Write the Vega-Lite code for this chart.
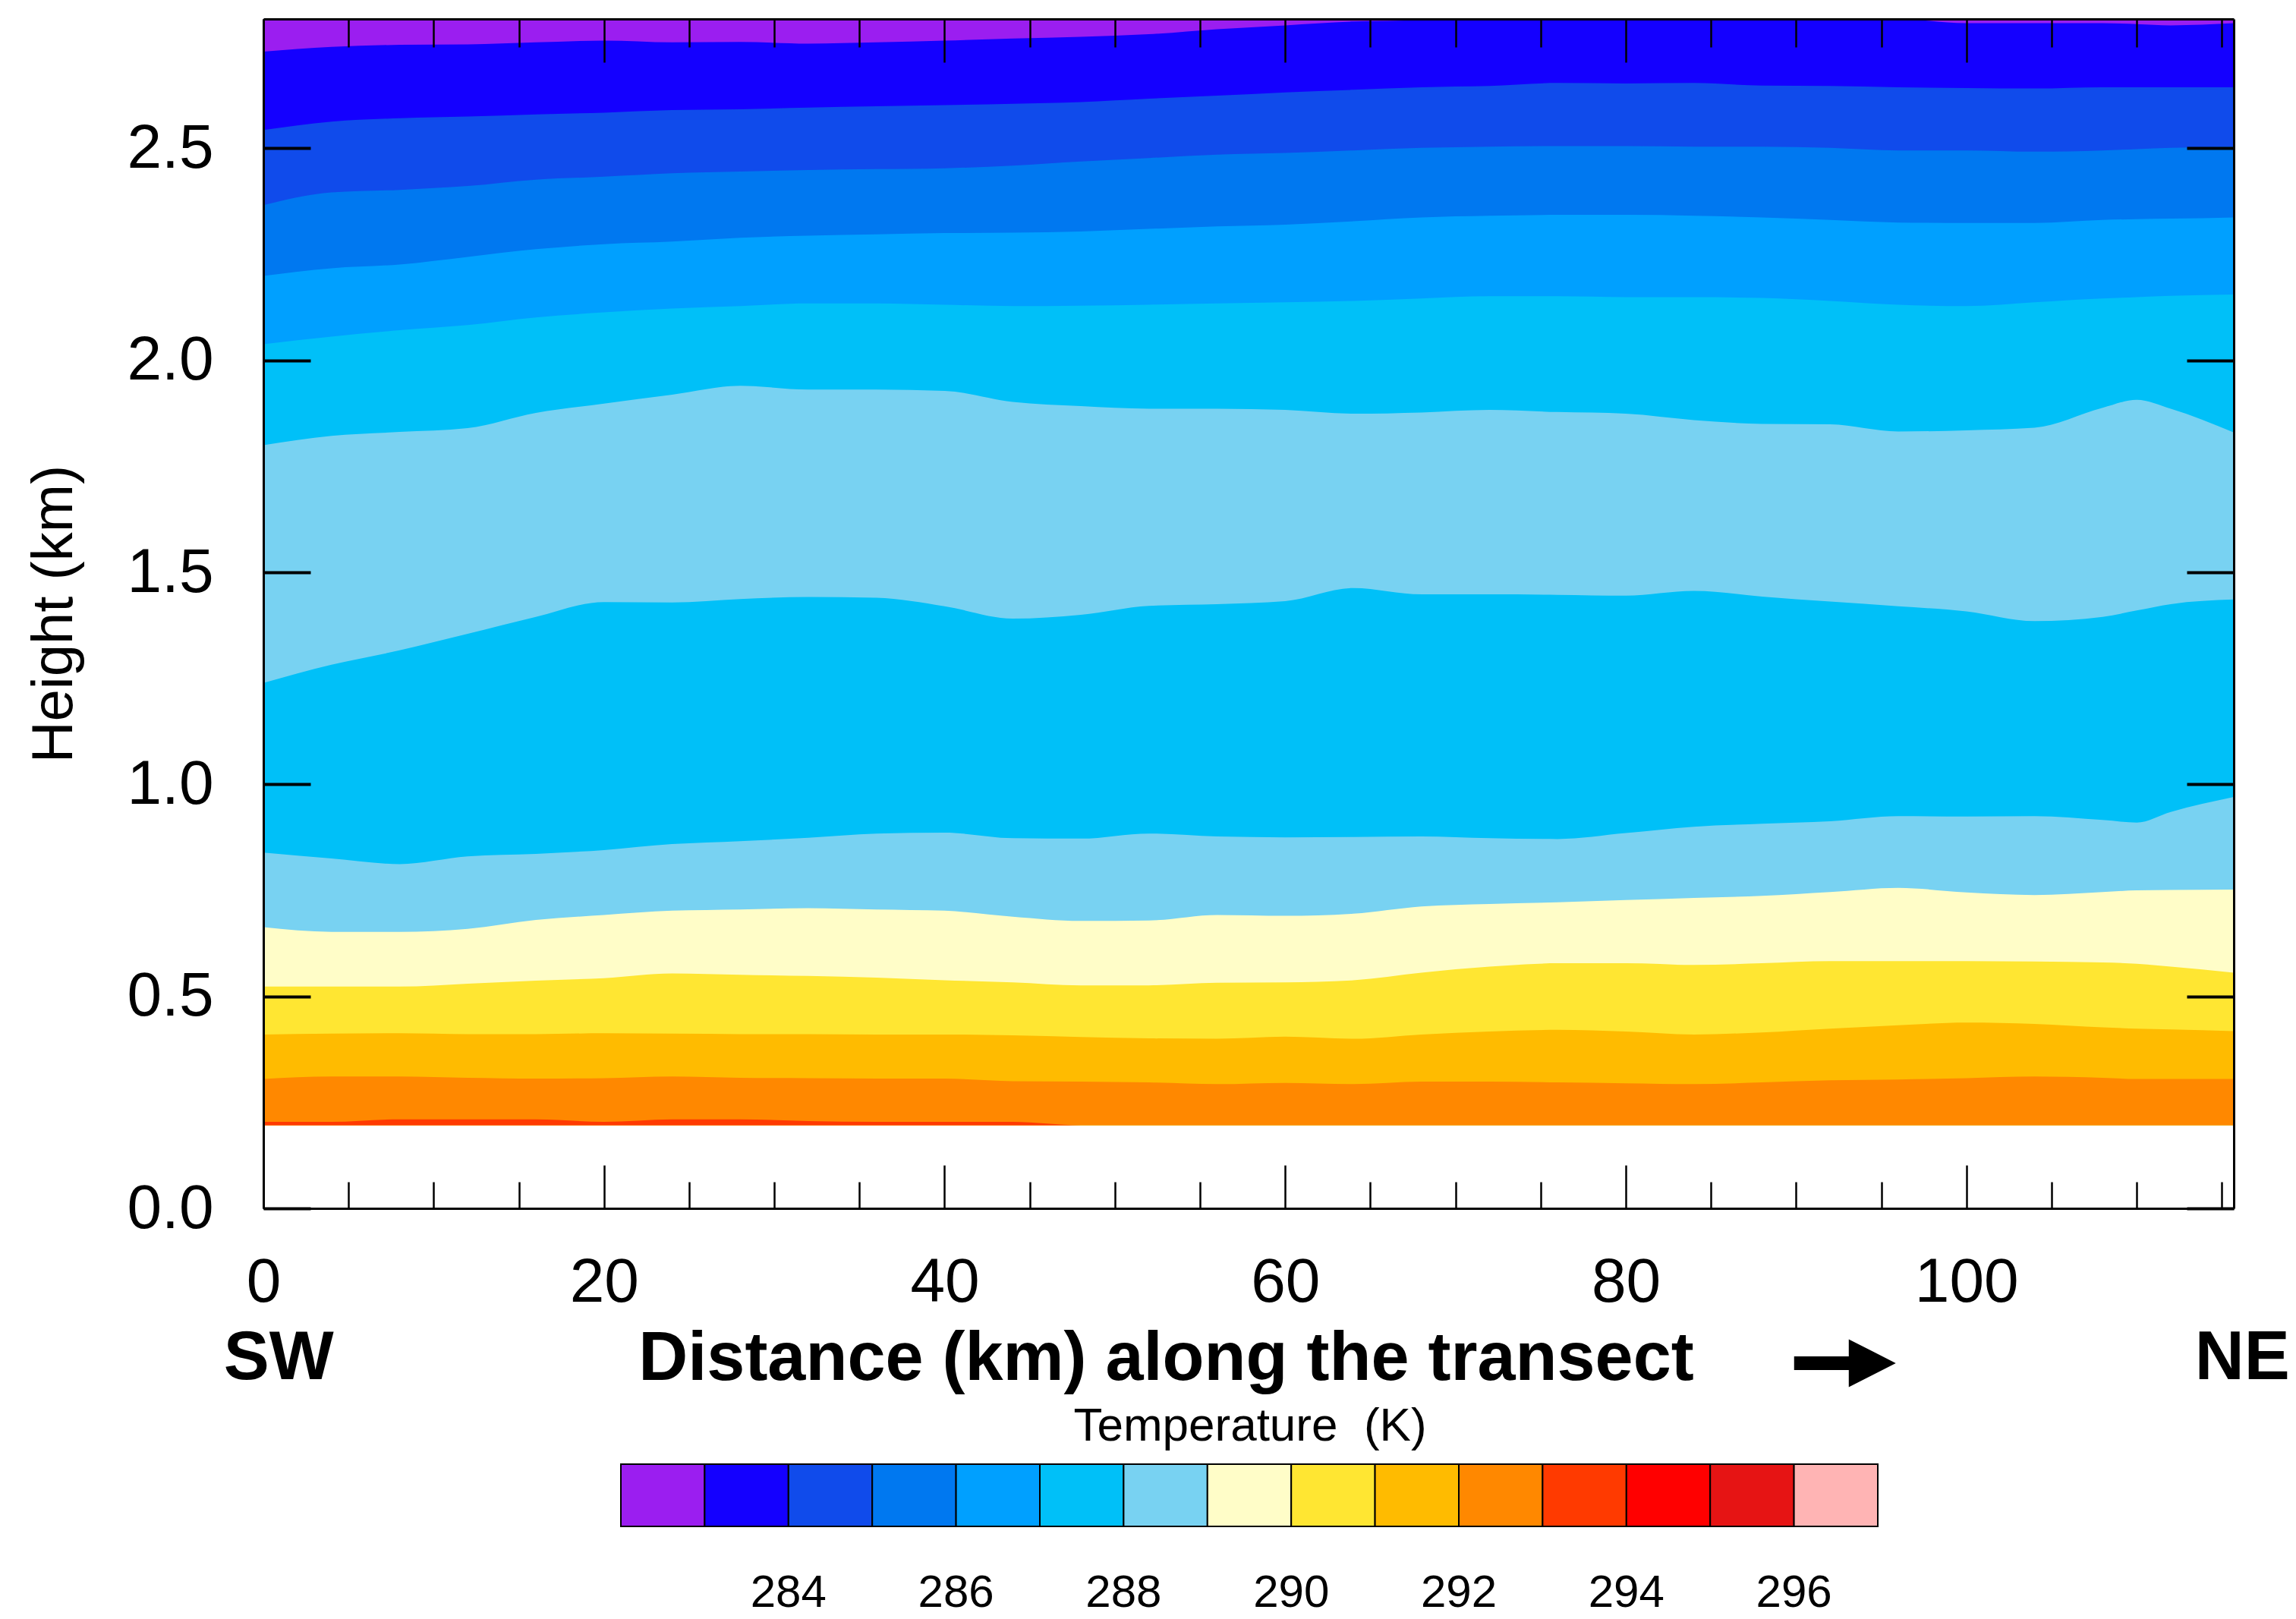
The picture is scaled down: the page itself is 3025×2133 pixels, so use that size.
{
"$schema": "https://vega.github.io/schema/vega-lite/v6.json",
"autosize": {"type": "none"},
"padding": {"left": 347, "top": 25, "right": 82, "bottom": 541},
"width": 2596,
"height": 1567,
"background": "white",
"config": {"view": {"stroke": null}, "font": "Liberation Sans"},
"resolve": {"axis": {"x": "independent", "y": "independent"}},
"layer": [
{
"data": {"values": [
{"b":1,"T":282.5,"x":0,"h":2.805},{"b":1,"T":282.5,"x":115.7,"h":2.805},
{"b":2,"T":283.5,"x":0,"h":2.728},{"b":2,"T":283.5,"x":4,"h":2.739},{"b":2,"T":283.5,"x":8,"h":2.744},{"b":2,"T":283.5,"x":12,"h":2.745},{"b":2,"T":283.5,"x":16,"h":2.75},{"b":2,"T":283.5,"x":20,"h":2.754},{"b":2,"T":283.5,"x":24,"h":2.75},{"b":2,"T":283.5,"x":28,"h":2.751},{"b":2,"T":283.5,"x":32,"h":2.747},{"b":2,"T":283.5,"x":36,"h":2.75},{"b":2,"T":283.5,"x":40,"h":2.754},{"b":2,"T":283.5,"x":44,"h":2.759},{"b":2,"T":283.5,"x":48,"h":2.763},{"b":2,"T":283.5,"x":52,"h":2.769},{"b":2,"T":283.5,"x":56,"h":2.781},{"b":2,"T":283.5,"x":60,"h":2.79},{"b":2,"T":283.5,"x":64,"h":2.799},{"b":2,"T":283.5,"x":68,"h":2.802},{"b":2,"T":283.5,"x":72,"h":2.805},{"b":2,"T":283.5,"x":76,"h":2.805},{"b":2,"T":283.5,"x":80,"h":2.805},{"b":2,"T":283.5,"x":84,"h":2.805},{"b":2,"T":283.5,"x":88,"h":2.805},{"b":2,"T":283.5,"x":92,"h":2.805},{"b":2,"T":283.5,"x":96,"h":2.805},{"b":2,"T":283.5,"x":100,"h":2.795},{"b":2,"T":283.5,"x":104,"h":2.795},{"b":2,"T":283.5,"x":108,"h":2.795},{"b":2,"T":283.5,"x":110,"h":2.793},{"b":2,"T":283.5,"x":112,"h":2.79},{"b":2,"T":283.5,"x":115.7,"h":2.795},
{"b":3,"T":284.5,"x":0,"h":2.543},{"b":3,"T":284.5,"x":4,"h":2.563},{"b":3,"T":284.5,"x":8,"h":2.571},{"b":3,"T":284.5,"x":12,"h":2.575},{"b":3,"T":284.5,"x":16,"h":2.58},{"b":3,"T":284.5,"x":20,"h":2.584},{"b":3,"T":284.5,"x":24,"h":2.59},{"b":3,"T":284.5,"x":28,"h":2.592},{"b":3,"T":284.5,"x":32,"h":2.596},{"b":3,"T":284.5,"x":36,"h":2.599},{"b":3,"T":284.5,"x":40,"h":2.602},{"b":3,"T":284.5,"x":44,"h":2.605},{"b":3,"T":284.5,"x":48,"h":2.609},{"b":3,"T":284.5,"x":52,"h":2.617},{"b":3,"T":284.5,"x":56,"h":2.624},{"b":3,"T":284.5,"x":60,"h":2.632},{"b":3,"T":284.5,"x":64,"h":2.638},{"b":3,"T":284.5,"x":68,"h":2.644},{"b":3,"T":284.5,"x":72,"h":2.647},{"b":3,"T":284.5,"x":76,"h":2.654},{"b":3,"T":284.5,"x":80,"h":2.653},{"b":3,"T":284.5,"x":84,"h":2.654},{"b":3,"T":284.5,"x":88,"h":2.648},{"b":3,"T":284.5,"x":92,"h":2.647},{"b":3,"T":284.5,"x":96,"h":2.644},{"b":3,"T":284.5,"x":100,"h":2.642},{"b":3,"T":284.5,"x":104,"h":2.641},{"b":3,"T":284.5,"x":108,"h":2.644},{"b":3,"T":284.5,"x":110,"h":2.644},{"b":3,"T":284.5,"x":112,"h":2.644},{"b":3,"T":284.5,"x":115.7,"h":2.644},
{"b":4,"T":285.5,"x":0,"h":2.366},{"b":4,"T":285.5,"x":4,"h":2.396},{"b":4,"T":285.5,"x":8,"h":2.402},{"b":4,"T":285.5,"x":12,"h":2.411},{"b":4,"T":285.5,"x":16,"h":2.426},{"b":4,"T":285.5,"x":20,"h":2.433},{"b":4,"T":285.5,"x":24,"h":2.441},{"b":4,"T":285.5,"x":28,"h":2.445},{"b":4,"T":285.5,"x":32,"h":2.449},{"b":4,"T":285.5,"x":36,"h":2.451},{"b":4,"T":285.5,"x":40,"h":2.453},{"b":4,"T":285.5,"x":44,"h":2.459},{"b":4,"T":285.5,"x":48,"h":2.469},{"b":4,"T":285.5,"x":52,"h":2.477},{"b":4,"T":285.5,"x":56,"h":2.485},{"b":4,"T":285.5,"x":60,"h":2.489},{"b":4,"T":285.5,"x":64,"h":2.495},{"b":4,"T":285.5,"x":68,"h":2.501},{"b":4,"T":285.5,"x":72,"h":2.504},{"b":4,"T":285.5,"x":76,"h":2.505},{"b":4,"T":285.5,"x":80,"h":2.505},{"b":4,"T":285.5,"x":84,"h":2.504},{"b":4,"T":285.5,"x":88,"h":2.504},{"b":4,"T":285.5,"x":92,"h":2.501},{"b":4,"T":285.5,"x":96,"h":2.495},{"b":4,"T":285.5,"x":100,"h":2.495},{"b":4,"T":285.5,"x":104,"h":2.492},{"b":4,"T":285.5,"x":108,"h":2.495},{"b":4,"T":285.5,"x":110,"h":2.498},{"b":4,"T":285.5,"x":112,"h":2.501},{"b":4,"T":285.5,"x":115.7,"h":2.504},
{"b":5,"T":286.5,"x":0,"h":2.199},{"b":5,"T":286.5,"x":4,"h":2.217},{"b":5,"T":286.5,"x":8,"h":2.226},{"b":5,"T":286.5,"x":12,"h":2.244},{"b":5,"T":286.5,"x":16,"h":2.262},{"b":5,"T":286.5,"x":20,"h":2.274},{"b":5,"T":286.5,"x":24,"h":2.28},{"b":5,"T":286.5,"x":28,"h":2.289},{"b":5,"T":286.5,"x":32,"h":2.294},{"b":5,"T":286.5,"x":36,"h":2.297},{"b":5,"T":286.5,"x":40,"h":2.3},{"b":5,"T":286.5,"x":44,"h":2.301},{"b":5,"T":286.5,"x":48,"h":2.304},{"b":5,"T":286.5,"x":52,"h":2.31},{"b":5,"T":286.5,"x":56,"h":2.316},{"b":5,"T":286.5,"x":60,"h":2.32},{"b":5,"T":286.5,"x":64,"h":2.328},{"b":5,"T":286.5,"x":68,"h":2.337},{"b":5,"T":286.5,"x":72,"h":2.341},{"b":5,"T":286.5,"x":76,"h":2.343},{"b":5,"T":286.5,"x":80,"h":2.343},{"b":5,"T":286.5,"x":84,"h":2.341},{"b":5,"T":286.5,"x":88,"h":2.337},{"b":5,"T":286.5,"x":92,"h":2.331},{"b":5,"T":286.5,"x":96,"h":2.325},{"b":5,"T":286.5,"x":100,"h":2.324},{"b":5,"T":286.5,"x":104,"h":2.324},{"b":5,"T":286.5,"x":108,"h":2.331},{"b":5,"T":286.5,"x":110,"h":2.333},{"b":5,"T":286.5,"x":112,"h":2.334},{"b":5,"T":286.5,"x":115.7,"h":2.337},
{"b":6,"T":287.5,"x":0,"h":2.038},{"b":6,"T":287.5,"x":4,"h":2.056},{"b":6,"T":287.5,"x":8,"h":2.071},{"b":6,"T":287.5,"x":12,"h":2.083},{"b":6,"T":287.5,"x":16,"h":2.101},{"b":6,"T":287.5,"x":20,"h":2.113},{"b":6,"T":287.5,"x":24,"h":2.122},{"b":6,"T":287.5,"x":28,"h":2.128},{"b":6,"T":287.5,"x":32,"h":2.134},{"b":6,"T":287.5,"x":36,"h":2.134},{"b":6,"T":287.5,"x":40,"h":2.131},{"b":6,"T":287.5,"x":44,"h":2.128},{"b":6,"T":287.5,"x":48,"h":2.129},{"b":6,"T":287.5,"x":52,"h":2.131},{"b":6,"T":287.5,"x":56,"h":2.134},{"b":6,"T":287.5,"x":60,"h":2.137},{"b":6,"T":287.5,"x":64,"h":2.14},{"b":6,"T":287.5,"x":68,"h":2.146},{"b":6,"T":287.5,"x":72,"h":2.151},{"b":6,"T":287.5,"x":76,"h":2.151},{"b":6,"T":287.5,"x":80,"h":2.149},{"b":6,"T":287.5,"x":84,"h":2.149},{"b":6,"T":287.5,"x":88,"h":2.147},{"b":6,"T":287.5,"x":92,"h":2.14},{"b":6,"T":287.5,"x":96,"h":2.131},{"b":6,"T":287.5,"x":100,"h":2.128},{"b":6,"T":287.5,"x":104,"h":2.137},{"b":6,"T":287.5,"x":108,"h":2.146},{"b":6,"T":287.5,"x":110,"h":2.149},{"b":6,"T":287.5,"x":112,"h":2.152},{"b":6,"T":287.5,"x":115.7,"h":2.155},
{"b":7,"T":288.5,"x":0,"h":1.8},{"b":7,"T":288.5,"x":4,"h":1.822},{"b":7,"T":288.5,"x":8,"h":1.831},{"b":7,"T":288.5,"x":12,"h":1.84},{"b":7,"T":288.5,"x":16,"h":1.876},{"b":7,"T":288.5,"x":20,"h":1.898},{"b":7,"T":288.5,"x":24,"h":1.919},{"b":7,"T":288.5,"x":28,"h":1.94},{"b":7,"T":288.5,"x":32,"h":1.931},{"b":7,"T":288.5,"x":36,"h":1.931},{"b":7,"T":288.5,"x":40,"h":1.928},{"b":7,"T":288.5,"x":44,"h":1.902},{"b":7,"T":288.5,"x":48,"h":1.892},{"b":7,"T":288.5,"x":52,"h":1.886},{"b":7,"T":288.5,"x":56,"h":1.886},{"b":7,"T":288.5,"x":60,"h":1.883},{"b":7,"T":288.5,"x":64,"h":1.874},{"b":7,"T":288.5,"x":68,"h":1.877},{"b":7,"T":288.5,"x":72,"h":1.883},{"b":7,"T":288.5,"x":76,"h":1.878},{"b":7,"T":288.5,"x":80,"h":1.874},{"b":7,"T":288.5,"x":84,"h":1.859},{"b":7,"T":288.5,"x":88,"h":1.85},{"b":7,"T":288.5,"x":92,"h":1.849},{"b":7,"T":288.5,"x":96,"h":1.832},{"b":7,"T":288.5,"x":100,"h":1.835},{"b":7,"T":288.5,"x":104,"h":1.841},{"b":7,"T":288.5,"x":108,"h":1.888},{"b":7,"T":288.5,"x":110,"h":1.907},{"b":7,"T":288.5,"x":112,"h":1.886},{"b":7,"T":288.5,"x":115.7,"h":1.83},
{"b":8,"T":287.5,"x":0,"h":1.239},{"b":8,"T":287.5,"x":4,"h":1.282},{"b":8,"T":287.5,"x":8,"h":1.316},{"b":8,"T":287.5,"x":12,"h":1.355},{"b":8,"T":287.5,"x":16,"h":1.395},{"b":8,"T":287.5,"x":20,"h":1.43},{"b":8,"T":287.5,"x":24,"h":1.429},{"b":8,"T":287.5,"x":28,"h":1.437},{"b":8,"T":287.5,"x":32,"h":1.442},{"b":8,"T":287.5,"x":36,"h":1.44},{"b":8,"T":287.5,"x":40,"h":1.42},{"b":8,"T":287.5,"x":44,"h":1.391},{"b":8,"T":287.5,"x":48,"h":1.4},{"b":8,"T":287.5,"x":52,"h":1.421},{"b":8,"T":287.5,"x":56,"h":1.425},{"b":8,"T":287.5,"x":60,"h":1.432},{"b":8,"T":287.5,"x":64,"h":1.463},{"b":8,"T":287.5,"x":68,"h":1.448},{"b":8,"T":287.5,"x":72,"h":1.448},{"b":8,"T":287.5,"x":76,"h":1.447},{"b":8,"T":287.5,"x":80,"h":1.445},{"b":8,"T":287.5,"x":84,"h":1.456},{"b":8,"T":287.5,"x":88,"h":1.443},{"b":8,"T":287.5,"x":92,"h":1.431},{"b":8,"T":287.5,"x":96,"h":1.42},{"b":8,"T":287.5,"x":100,"h":1.408},{"b":8,"T":287.5,"x":104,"h":1.385},{"b":8,"T":287.5,"x":108,"h":1.395},{"b":8,"T":287.5,"x":110,"h":1.41},{"b":8,"T":287.5,"x":112,"h":1.425},{"b":8,"T":287.5,"x":115.7,"h":1.436},
{"b":9,"T":288.5,"x":0,"h":0.839},{"b":9,"T":288.5,"x":4,"h":0.825},{"b":9,"T":288.5,"x":8,"h":0.812},{"b":9,"T":288.5,"x":12,"h":0.83},{"b":9,"T":288.5,"x":16,"h":0.836},{"b":9,"T":288.5,"x":20,"h":0.845},{"b":9,"T":288.5,"x":24,"h":0.859},{"b":9,"T":288.5,"x":28,"h":0.866},{"b":9,"T":288.5,"x":32,"h":0.874},{"b":9,"T":288.5,"x":36,"h":0.884},{"b":9,"T":288.5,"x":40,"h":0.886},{"b":9,"T":288.5,"x":44,"h":0.873},{"b":9,"T":288.5,"x":48,"h":0.872},{"b":9,"T":288.5,"x":52,"h":0.884},{"b":9,"T":288.5,"x":56,"h":0.877},{"b":9,"T":288.5,"x":60,"h":0.875},{"b":9,"T":288.5,"x":64,"h":0.876},{"b":9,"T":288.5,"x":68,"h":0.877},{"b":9,"T":288.5,"x":72,"h":0.873},{"b":9,"T":288.5,"x":76,"h":0.871},{"b":9,"T":288.5,"x":80,"h":0.885},{"b":9,"T":288.5,"x":84,"h":0.9},{"b":9,"T":288.5,"x":88,"h":0.907},{"b":9,"T":288.5,"x":92,"h":0.913},{"b":9,"T":288.5,"x":96,"h":0.925},{"b":9,"T":288.5,"x":100,"h":0.924},{"b":9,"T":288.5,"x":104,"h":0.925},{"b":9,"T":288.5,"x":108,"h":0.916},{"b":9,"T":288.5,"x":110,"h":0.91},{"b":9,"T":288.5,"x":112,"h":0.935},{"b":9,"T":288.5,"x":115.7,"h":0.97},
{"b":10,"T":289.5,"x":0,"h":0.663},{"b":10,"T":289.5,"x":4,"h":0.652},{"b":10,"T":289.5,"x":8,"h":0.652},{"b":10,"T":289.5,"x":12,"h":0.659},{"b":10,"T":289.5,"x":16,"h":0.68},{"b":10,"T":289.5,"x":20,"h":0.692},{"b":10,"T":289.5,"x":24,"h":0.702},{"b":10,"T":289.5,"x":28,"h":0.705},{"b":10,"T":289.5,"x":32,"h":0.708},{"b":10,"T":289.5,"x":36,"h":0.705},{"b":10,"T":289.5,"x":40,"h":0.702},{"b":10,"T":289.5,"x":44,"h":0.688},{"b":10,"T":289.5,"x":48,"h":0.678},{"b":10,"T":289.5,"x":52,"h":0.679},{"b":10,"T":289.5,"x":56,"h":0.692},{"b":10,"T":289.5,"x":60,"h":0.69},{"b":10,"T":289.5,"x":64,"h":0.695},{"b":10,"T":289.5,"x":68,"h":0.712},{"b":10,"T":289.5,"x":72,"h":0.718},{"b":10,"T":289.5,"x":76,"h":0.722},{"b":10,"T":289.5,"x":80,"h":0.727},{"b":10,"T":289.5,"x":84,"h":0.732},{"b":10,"T":289.5,"x":88,"h":0.737},{"b":10,"T":289.5,"x":92,"h":0.746},{"b":10,"T":289.5,"x":96,"h":0.756},{"b":10,"T":289.5,"x":100,"h":0.745},{"b":10,"T":289.5,"x":104,"h":0.739},{"b":10,"T":289.5,"x":108,"h":0.746},{"b":10,"T":289.5,"x":110,"h":0.75},{"b":10,"T":289.5,"x":112,"h":0.751},{"b":10,"T":289.5,"x":115.7,"h":0.752},
{"b":11,"T":290.5,"x":0,"h":0.523},{"b":11,"T":290.5,"x":4,"h":0.523},{"b":11,"T":290.5,"x":8,"h":0.523},{"b":11,"T":290.5,"x":12,"h":0.53},{"b":11,"T":290.5,"x":16,"h":0.537},{"b":11,"T":290.5,"x":20,"h":0.543},{"b":11,"T":290.5,"x":24,"h":0.554},{"b":11,"T":290.5,"x":28,"h":0.551},{"b":11,"T":290.5,"x":32,"h":0.548},{"b":11,"T":290.5,"x":36,"h":0.544},{"b":11,"T":290.5,"x":40,"h":0.538},{"b":11,"T":290.5,"x":44,"h":0.533},{"b":11,"T":290.5,"x":48,"h":0.526},{"b":11,"T":290.5,"x":52,"h":0.526},{"b":11,"T":290.5,"x":56,"h":0.532},{"b":11,"T":290.5,"x":60,"h":0.533},{"b":11,"T":290.5,"x":64,"h":0.538},{"b":11,"T":290.5,"x":68,"h":0.556},{"b":11,"T":290.5,"x":72,"h":0.57},{"b":11,"T":290.5,"x":76,"h":0.578},{"b":11,"T":290.5,"x":80,"h":0.578},{"b":11,"T":290.5,"x":84,"h":0.574},{"b":11,"T":290.5,"x":88,"h":0.578},{"b":11,"T":290.5,"x":92,"h":0.583},{"b":11,"T":290.5,"x":96,"h":0.583},{"b":11,"T":290.5,"x":100,"h":0.583},{"b":11,"T":290.5,"x":104,"h":0.582},{"b":11,"T":290.5,"x":108,"h":0.58},{"b":11,"T":290.5,"x":110,"h":0.577},{"b":11,"T":290.5,"x":112,"h":0.57},{"b":11,"T":290.5,"x":115.7,"h":0.556},
{"b":12,"T":291.5,"x":0,"h":0.41},{"b":12,"T":291.5,"x":4,"h":0.412},{"b":12,"T":291.5,"x":8,"h":0.413},{"b":12,"T":291.5,"x":12,"h":0.411},{"b":12,"T":291.5,"x":16,"h":0.411},{"b":12,"T":291.5,"x":20,"h":0.413},{"b":12,"T":291.5,"x":24,"h":0.412},{"b":12,"T":291.5,"x":28,"h":0.411},{"b":12,"T":291.5,"x":32,"h":0.411},{"b":12,"T":291.5,"x":36,"h":0.41},{"b":12,"T":291.5,"x":40,"h":0.41},{"b":12,"T":291.5,"x":44,"h":0.408},{"b":12,"T":291.5,"x":48,"h":0.404},{"b":12,"T":291.5,"x":52,"h":0.401},{"b":12,"T":291.5,"x":56,"h":0.4},{"b":12,"T":291.5,"x":60,"h":0.405},{"b":12,"T":291.5,"x":64,"h":0.4},{"b":12,"T":291.5,"x":68,"h":0.41},{"b":12,"T":291.5,"x":72,"h":0.417},{"b":12,"T":291.5,"x":76,"h":0.421},{"b":12,"T":291.5,"x":80,"h":0.417},{"b":12,"T":291.5,"x":84,"h":0.41},{"b":12,"T":291.5,"x":88,"h":0.415},{"b":12,"T":291.5,"x":92,"h":0.424},{"b":12,"T":291.5,"x":96,"h":0.432},{"b":12,"T":291.5,"x":100,"h":0.438},{"b":12,"T":291.5,"x":104,"h":0.435},{"b":12,"T":291.5,"x":108,"h":0.427},{"b":12,"T":291.5,"x":110,"h":0.424},{"b":12,"T":291.5,"x":112,"h":0.422},{"b":12,"T":291.5,"x":115.7,"h":0.418},
{"b":13,"T":292.5,"x":0,"h":0.305},{"b":13,"T":292.5,"x":4,"h":0.311},{"b":13,"T":292.5,"x":8,"h":0.311},{"b":13,"T":292.5,"x":12,"h":0.308},{"b":13,"T":292.5,"x":16,"h":0.306},{"b":13,"T":292.5,"x":20,"h":0.307},{"b":13,"T":292.5,"x":24,"h":0.311},{"b":13,"T":292.5,"x":28,"h":0.308},{"b":13,"T":292.5,"x":32,"h":0.307},{"b":13,"T":292.5,"x":36,"h":0.306},{"b":13,"T":292.5,"x":40,"h":0.306},{"b":13,"T":292.5,"x":44,"h":0.3},{"b":13,"T":292.5,"x":48,"h":0.299},{"b":13,"T":292.5,"x":52,"h":0.297},{"b":13,"T":292.5,"x":56,"h":0.293},{"b":13,"T":292.5,"x":60,"h":0.296},{"b":13,"T":292.5,"x":64,"h":0.293},{"b":13,"T":292.5,"x":68,"h":0.299},{"b":13,"T":292.5,"x":72,"h":0.299},{"b":13,"T":292.5,"x":76,"h":0.297},{"b":13,"T":292.5,"x":80,"h":0.295},{"b":13,"T":292.5,"x":84,"h":0.293},{"b":13,"T":292.5,"x":88,"h":0.297},{"b":13,"T":292.5,"x":92,"h":0.302},{"b":13,"T":292.5,"x":96,"h":0.304},{"b":13,"T":292.5,"x":100,"h":0.307},{"b":13,"T":292.5,"x":104,"h":0.311},{"b":13,"T":292.5,"x":108,"h":0.308},{"b":13,"T":292.5,"x":110,"h":0.305},{"b":13,"T":292.5,"x":112,"h":0.305},{"b":13,"T":292.5,"x":115.7,"h":0.305},
{"b":14,"T":293.5,"x":0,"h":0.204},{"b":14,"T":293.5,"x":4,"h":0.204},{"b":14,"T":293.5,"x":8,"h":0.21},{"b":14,"T":293.5,"x":12,"h":0.21},{"b":14,"T":293.5,"x":16,"h":0.21},{"b":14,"T":293.5,"x":20,"h":0.204},{"b":14,"T":293.5,"x":24,"h":0.21},{"b":14,"T":293.5,"x":28,"h":0.21},{"b":14,"T":293.5,"x":32,"h":0.206},{"b":14,"T":293.5,"x":36,"h":0.204},{"b":14,"T":293.5,"x":40,"h":0.204},{"b":14,"T":293.5,"x":44,"h":0.204},{"b":14,"T":293.5,"x":48,"h":0.196},{"b":14,"T":293.5,"x":115.7,"h":0.196}
]},
"mark": {"type": "area", "interpolate": "monotone"},
"encoding": {
"x": {"field": "x", "type": "quantitative", "scale": {"domain": [0, 115.7], "nice": false, "zero": false},
"axis": {"orient": "bottom", "values": [0, 20, 40, 60, 80, 100], "tickSize": -57, "tickWidth": 2.5, "tickColor": "black", "labelFont": "Liberation Sans", "labelFontSize": 82, "labelColor": "black", "labelPadding": 114, "labelFlush": false, "labelOverlap": false, "domainColor": "black", "domainWidth": 3, "grid": false, "zindex": 1, "title": "Distance (km) along the transect", "titleFont": "Liberation Sans", "titleFontSize": 90, "titleFontWeight": "bold", "titleColor": "black", "titleLimit": 3000, "titleX": 1189, "titleY": 225, "titleBaseline": "alphabetic"}},
"y": {"field": "h", "type": "quantitative", "scale": {"domain": [0, 2.805], "nice": false, "zero": false},
"axis": {"orient": "left", "values": [0, 0.5, 1, 1.5, 2, 2.5], "format": ".1f", "tickSize": -62, "tickWidth": 4, "tickColor": "black", "labelFont": "Liberation Sans", "labelFontSize": 82, "labelColor": "black", "labelPadding": 128, "labelFlush": false, "labelOverlap": false, "domainColor": "black", "domainWidth": 3, "grid": false, "zindex": 1, "title": "Height (km)", "titleFont": "Liberation Sans", "titleFontSize": 76, "titleFontWeight": "normal", "titleColor": "black", "titleLimit": 3000, "titleX": -253, "titleBaseline": "alphabetic"}},
"y2": {"datum": 0.196},
"detail": {"field": "b"},
"color": {"field": "T", "type": "quantitative",
"scale": {"type": "threshold", "domain": [283, 284, 285, 286, 287, 288, 289, 290, 291, 292, 293, 294, 295, 296],
"range": ["#9B1EF0", "#1400FF", "#104BEB", "#0078F0", "#00A0FF", "#00C0F8", "#78D2F2", "#FFFDC8", "#FFE632", "#FFBB00", "#FF8800", "#FF3A00", "#FF0000", "#E61414", "#FFB4B4"]},
"legend": {"type": "gradient", "orient": "none", "legendX": 471, "legendY": 1824, "direction": "horizontal", "gradientLength": 1656, "gradientThickness": 82, "gradientStrokeColor": "black", "gradientStrokeWidth": 2, "title": "Temperature\u00a0\u00a0(K)", "titleFont": "Liberation Sans", "titleFontSize": 62, "titleFontWeight": "normal", "titleColor": "black", "titleLimit": 3000, "titleAnchor": "middle", "titlePadding": 18, "labelFont": "Liberation Sans", "labelFontSize": 60, "labelColor": "black", "labelOffset": 59, "labelOverlap": false, "labelLimit": 500, "labelExpr": "datum.value % 2 === 0 ? datum.label : ''", "padding": 0,
"encode": {"gradient": {"update": {"stroke": {"value": "black"}, "strokeWidth": {"value": 2}}}}}}
}
},
{
"data": {"values": [{"label": "SW"}]},
"mark": {"type": "text", "font": "Liberation Sans", "fontSize": 90, "fontWeight": "bold", "align": "center", "baseline": "alphabetic", "color": "black"},
"encoding": {
"x": {"datum": 0.9, "type": "quantitative", "scale": {"domain": [0, 115.7], "nice": false, "zero": false},
"axis": {"orient": "top", "values": [0, 20, 40, 60, 80, 100], "tickSize": -57, "tickWidth": 2.5, "tickColor": "black", "labels": false, "domainColor": "black", "domainWidth": 3, "grid": false, "zindex": 1, "title": null}},
"y": {"datum": -0.403, "type": "quantitative", "scale": {"domain": [0, 2.805], "nice": false, "zero": false},
"axis": {"orient": "right", "values": [0, 0.5, 1, 1.5, 2, 2.5], "tickSize": -62, "tickWidth": 4, "tickColor": "black", "labels": false, "domainColor": "black", "domainWidth": 3, "grid": false, "zindex": 1, "title": null}},
"text": {"field": "label"}
}
},
{
"data": {"values": [{"label": "NE"}]},
"mark": {"type": "text", "font": "Liberation Sans", "fontSize": 90, "fontWeight": "bold", "align": "center", "baseline": "alphabetic", "color": "black"},
"encoding": {
"x": {"datum": 116.2, "type": "quantitative", "scale": {"domain": [0, 115.7], "nice": false, "zero": false},
"axis": {"orient": "bottom", "values": [5, 10, 15, 25, 30, 35, 45, 50, 55, 65, 70, 75, 85, 90, 95, 105, 110, 115], "tickSize": -35, "tickWidth": 2.5, "tickColor": "black", "labels": false, "domain": false, "grid": false, "zindex": 1, "title": null}},
"y": {"datum": -0.403, "type": "quantitative", "scale": {"domain": [0, 2.805], "nice": false, "zero": false}, "axis": null},
"text": {"field": "label"}
}
},
{
"data": {"values": [{"label": "arrow"}]},
"mark": {"type": "point", "shape": "M -1 -0.134 L 0.075 -0.134 L 0.075 -0.47 L 1 0 L 0.075 0.47 L 0.075 0.134 L -1 0.134 Z", "size": 17956, "filled": true, "color": "black", "opacity": 1, "strokeWidth": 0},
"encoding": {
"x": {"datum": 92.87, "type": "quantitative", "scale": {"domain": [0, 115.7], "nice": false, "zero": false},
"axis": {"orient": "top", "values": [5, 10, 15, 25, 30, 35, 45, 50, 55, 65, 70, 75, 85, 90, 95, 105, 110, 115], "tickSize": -37, "tickWidth": 2.5, "tickColor": "black", "labels": false, "domain": false, "grid": false, "zindex": 1, "title": null}},
"y": {"datum": -0.365, "type": "quantitative", "scale": {"domain": [0, 2.805], "nice": false, "zero": false}, "axis": null}
}
}
]
}
